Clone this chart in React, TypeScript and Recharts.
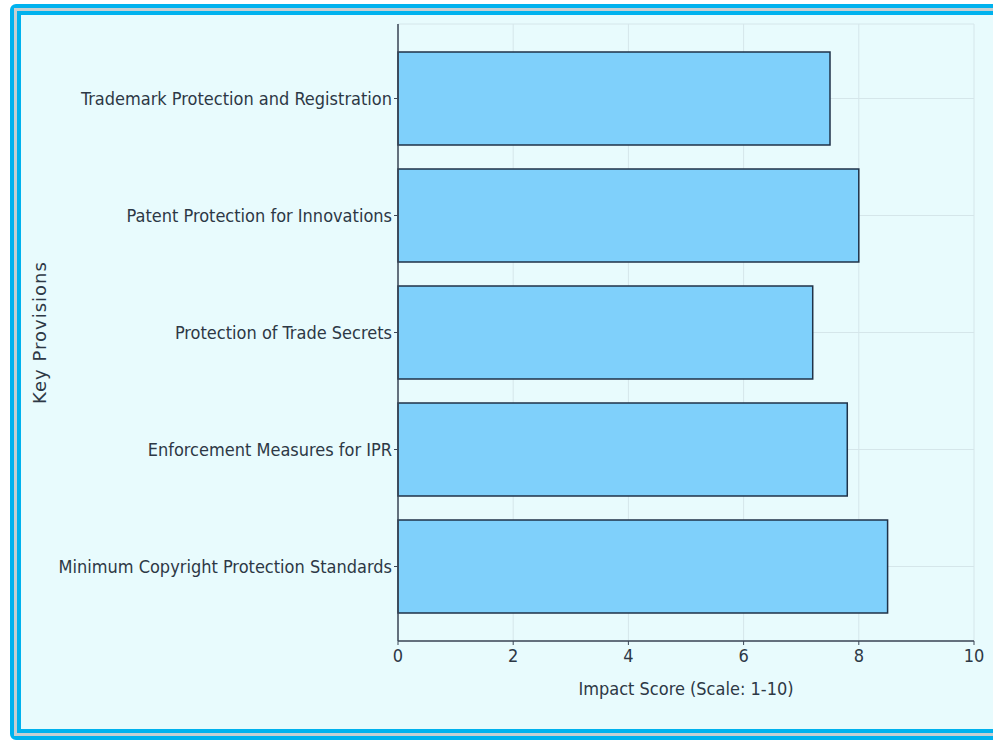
import { BarChart, Bar, XAxis, YAxis, CartesianGrid } from "recharts";

const provisions = [
  "Trademark Protection and Registration",
  "Patent Protection for Innovations",
  "Protection of Trade Secrets",
  "Enforcement Measures for IPR",
  "Minimum Copyright Protection Standards",
];
const impactScores = [7.5, 8.0, 7.2, 7.8, 8.5];
const xTicks = [0, 2, 4, 6, 8, 10];

const data = provisions.map((name, i) => ({ name, score: impactScores[i] }));

const textColor = "#2d3845";
const font = "'DejaVu Sans Condensed', 'DejaVu Sans', sans-serif";

export default function App() {
  return (
    <div
      style={{
        position: "absolute",
        left: 0,
        top: 0,
        width: 993,
        height: 742,
        overflow: "hidden",
        background: "#ffffff",
        fontFamily: font,
      }}
    >
      <div
        style={{
          position: "absolute",
          left: 10,
          top: 4,
          width: 994,
          height: 736,
          boxSizing: "border-box",
          border: "4px solid #00b2ee",
          borderRadius: 6,
        }}
      >
        <div
          style={{
            width: "100%",
            height: "100%",
            boxSizing: "border-box",
            border: "3px solid #c6cfd2",
          }}
        >
          <div
            style={{
              width: "100%",
              height: "100%",
              boxSizing: "border-box",
              border: "4px solid #00b2ee",
              background: "#e8fbfd",
            }}
          />
        </div>
      </div>
      <div style={{ position: "absolute", left: 0, top: 0 }}>
        <BarChart
          width={993}
          height={742}
          data={data}
          layout="vertical"
          margin={{ top: 24, right: 19, bottom: 41, left: 0 }}
          barSize={93}
        >
          <CartesianGrid stroke="#d5e6ea" strokeWidth={1} />
          <XAxis
            type="number"
            domain={[0, 10]}
            ticks={xTicks}
            height={60}
            axisLine={{ stroke: "#3b4656", strokeWidth: 1.5 }}
            tickLine={{ stroke: "#3b4656" }}
            tickSize={4}
            tickMargin={4}
            tick={{ fill: textColor, fontSize: 18, fontFamily: font }}
            label={{
              value: "Impact Score (Scale: 1-10)",
              position: "insideBottom",
              offset: 6,
              fill: textColor,
              fontSize: 18,
              fontFamily: font,
            }}
          />
          <YAxis
            type="category"
            dataKey="name"
            width={398}
            padding={{ top: 16, bottom: 16 }}
            axisLine={{ stroke: "#3b4656", strokeWidth: 1.5 }}
            tickLine={{ stroke: "#3b4656" }}
            tickSize={4}
            tick={{ fill: textColor, fontSize: 18, fontFamily: font }}
            label={{
              value: "Key Provisions",
              angle: -90,
              position: "insideLeft",
              offset: 40,
              fill: textColor,
              fontSize: 18,
              fontFamily: "'DejaVu Sans', sans-serif",
              style: { textAnchor: "middle", letterSpacing: 1 },
            }}
          />
          <Bar
            dataKey="score"
            fill="#7fd0fb"
            stroke="#1f3248"
            strokeWidth={1.5}
            isAnimationActive={false}
          />
        </BarChart>
      </div>
    </div>
  );
}
